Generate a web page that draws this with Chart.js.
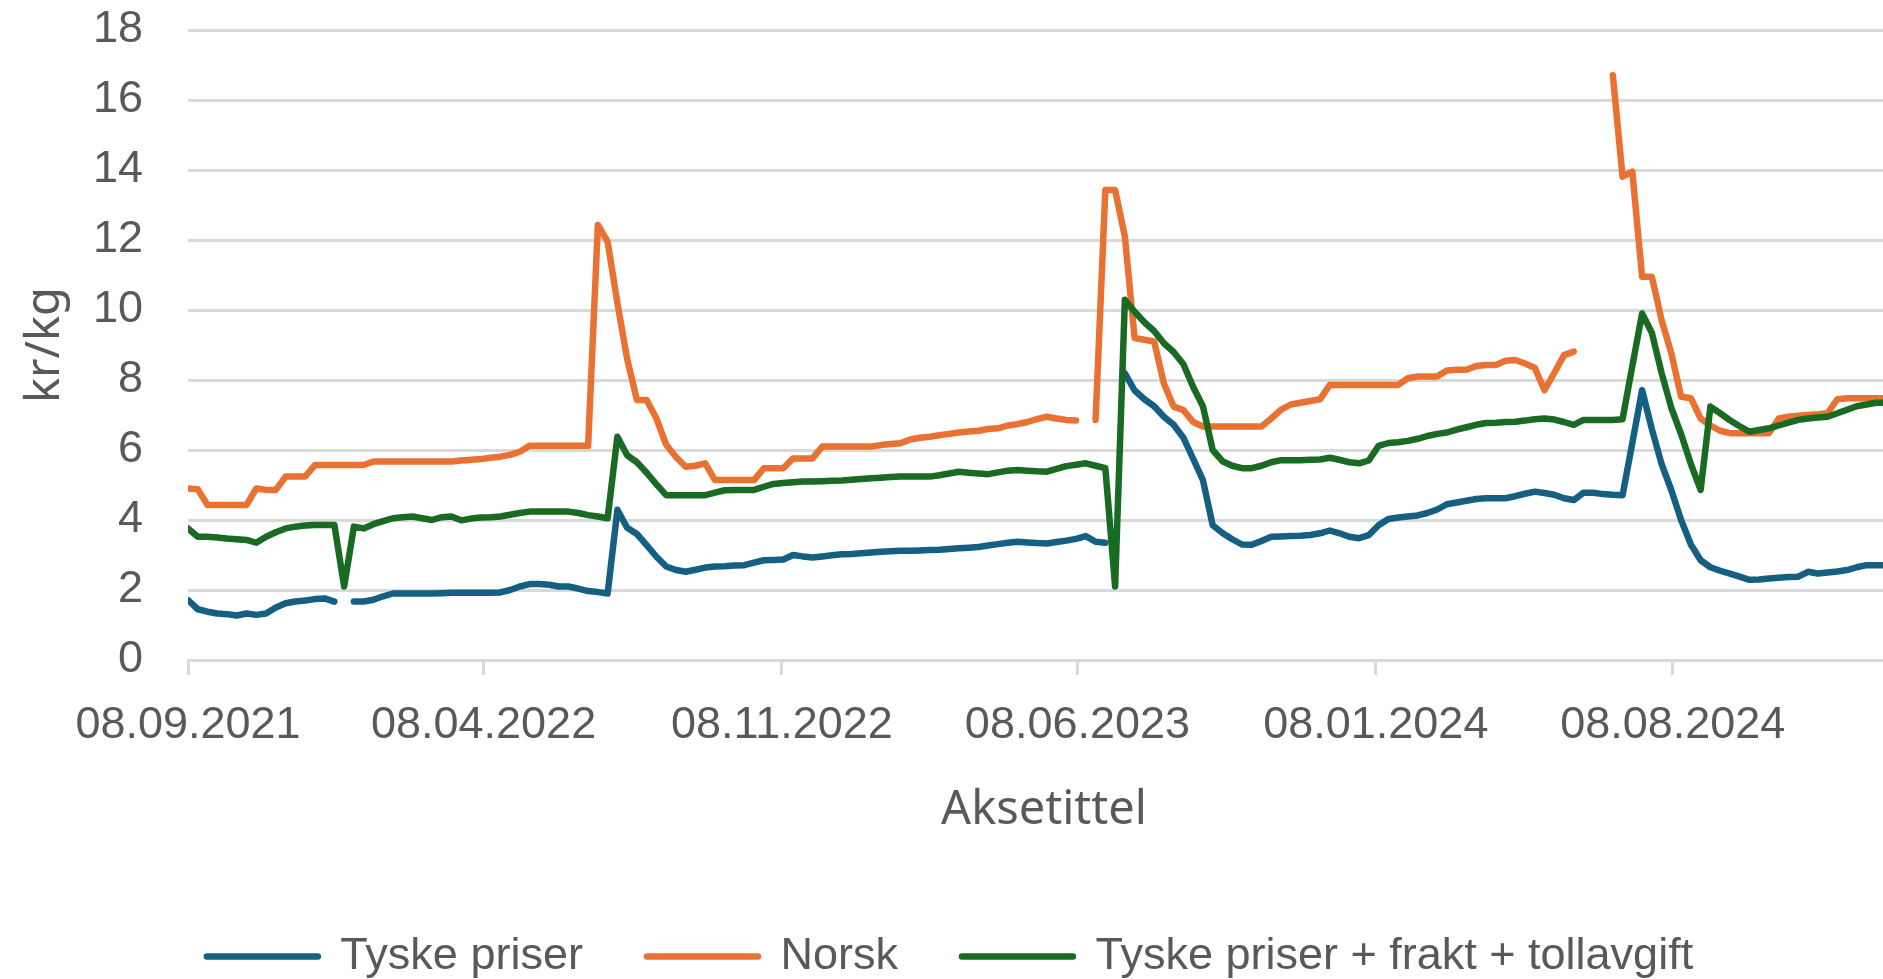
<!DOCTYPE html>
<html>
<head>
<meta charset="utf-8">
<script src="https://cdn.jsdelivr.net/npm/chart.js@4.4.1/dist/chart.umd.min.js"></script>
<style>
html, body { margin: 0; padding: 0; background: #ffffff; overflow: hidden; width: 1883px; height: 979px; }
#wrap { position: absolute; left: 0; top: 0; width: 1912px; height: 989px; }
</style>
</head>
<body>
<div id="wrap"><canvas id="chart" width="1912" height="989"></canvas></div>
<script>
// ---- Data (weekly observations starting 08.09.2021) ----
const startDate = '08.09.2021';
const axisEndDate = '18.01.2025';
const weeks = Array.from({ length: 176 }, (_, i) => i); // week number since start date

const tickLabels = ['08.09.2021', '08.04.2022', '08.11.2022', '08.06.2023', '08.01.2024', '08.08.2024'];
const yTickValues = [0, 2, 4, 6, 8, 10, 12, 14, 16, 18];

const seriesNames = ['Tyske priser', 'Norsk', 'Tyske priser + frakt + tollavgift'];

const tyskePriser = [
  1.71, 1.45, 1.38, 1.33, 1.31, 1.27, 1.33, 1.29, 1.33, 1.50,
  1.62, 1.67, 1.70, 1.74, 1.76, 1.67, null, 1.67, 1.67, 1.72,
  1.82, 1.90, 1.90, 1.90, 1.90, 1.90, 1.91, 1.92, 1.92, 1.92,
  1.92, 1.92, 1.93, 2.00, 2.10, 2.17, 2.17, 2.15, 2.10, 2.10,
  2.04, 1.97, 1.94, 1.90, 4.29, 3.78, 3.60, 3.28, 2.95, 2.67,
  2.57, 2.52, 2.58, 2.64, 2.67, 2.68, 2.70, 2.71, 2.78, 2.85,
  2.86, 2.87, 3.00, 2.96, 2.93, 2.96, 2.99, 3.02, 3.03, 3.05,
  3.07, 3.09, 3.11, 3.12, 3.12, 3.13, 3.14, 3.15, 3.17, 3.19,
  3.21, 3.23, 3.27, 3.31, 3.35, 3.38, 3.36, 3.34, 3.33, 3.37,
  3.41, 3.46, 3.54, 3.38, 3.35, null, 8.19, 7.70, 7.45, 7.25,
  6.95, 6.72, 6.35, 5.75, 5.14, 3.85, 3.63, 3.45, 3.30, 3.29,
  3.40, 3.52, 3.53, 3.54, 3.55, 3.57, 3.62, 3.70, 3.62, 3.52,
  3.48, 3.57, 3.85, 4.03, 4.07, 4.10, 4.13, 4.20, 4.30, 4.45,
  4.50, 4.55, 4.60, 4.62, 4.62, 4.62, 4.68, 4.75, 4.81, 4.77,
  4.72, 4.62, 4.57, 4.78, 4.78, 4.74, 4.72, 4.71, 6.20, 7.71,
  6.60, 5.60, 4.85, 4.00, 3.30, 2.85, 2.65, 2.55, 2.47, 2.38,
  2.29, 2.30, 2.33, 2.35, 2.37, 2.38, 2.52, 2.47, 2.50, 2.53,
  2.57, 2.65, 2.71, 2.71, 2.71, 2.71
];

const norsk = [
  4.90, 4.88, 4.43, 4.43, 4.43, 4.43, 4.43, 4.90, 4.86, 4.86,
  5.24, 5.24, 5.24, 5.57, 5.57, 5.57, 5.57, 5.57, 5.57, 5.67,
  5.67, 5.67, 5.67, 5.67, 5.67, 5.67, 5.67, 5.67, 5.70, 5.72,
  5.74, 5.78, 5.81, 5.86, 5.95, 6.12, 6.12, 6.12, 6.12, 6.12,
  6.12, 6.12, 12.43, 11.95, 10.20, 8.60, 7.43, 7.43, 6.90, 6.15,
  5.80, 5.52, 5.55, 5.62, 5.14, 5.14, 5.14, 5.14, 5.14, 5.48,
  5.48, 5.48, 5.76, 5.76, 5.76, 6.10, 6.10, 6.10, 6.10, 6.10,
  6.10, 6.14, 6.17, 6.19, 6.30, 6.35, 6.38, 6.42, 6.46, 6.50,
  6.53, 6.55, 6.60, 6.62, 6.70, 6.74, 6.80, 6.88, 6.95, 6.90,
  6.86, 6.84, null, 6.86, 13.43, 13.43, 12.10, 9.20, 9.15, 9.10,
  7.90, 7.24, 7.14, 6.80, 6.67, 6.67, 6.67, 6.67, 6.67, 6.67,
  6.67, 6.90, 7.15, 7.30, 7.35, 7.40, 7.45, 7.86, 7.86, 7.86,
  7.86, 7.86, 7.86, 7.86, 7.86, 8.05, 8.10, 8.10, 8.10, 8.27,
  8.29, 8.29, 8.40, 8.43, 8.43, 8.55, 8.57, 8.47, 8.35, 7.71,
  8.20, 8.71, 8.81, null, null, null, 16.71, 13.81, 13.95, 10.95,
  10.95, 9.71, 8.76, 7.52, 7.48, 6.90, 6.70, 6.55, 6.48, 6.48,
  6.48, 6.48, 6.48, 6.90, 6.95, 6.98, 7.00, 7.02, 7.05, 7.45,
  7.48, 7.48, 7.48, 7.48, 7.48, 7.48
];

const tyskeMedFraktOgToll = [
  3.76, 3.52, 3.52, 3.50, 3.47, 3.45, 3.43, 3.35, 3.52, 3.65,
  3.76, 3.81, 3.84, 3.86, 3.86, 3.86, 2.10, 3.81, 3.76, 3.88,
  3.97, 4.05, 4.08, 4.10, 4.05, 4.00, 4.08, 4.10, 3.99, 4.04,
  4.07, 4.08, 4.10, 4.15, 4.20, 4.24, 4.24, 4.24, 4.24, 4.24,
  4.20, 4.14, 4.10, 4.05, 6.38, 5.85, 5.65, 5.35, 5.02, 4.71,
  4.71, 4.71, 4.71, 4.71, 4.78, 4.85, 4.86, 4.86, 4.86, 4.95,
  5.03, 5.06, 5.08, 5.10, 5.10, 5.11, 5.12, 5.13, 5.15, 5.17,
  5.19, 5.21, 5.23, 5.24, 5.24, 5.24, 5.24, 5.28, 5.33, 5.38,
  5.35, 5.33, 5.31, 5.36, 5.41, 5.43, 5.41, 5.39, 5.38, 5.46,
  5.54, 5.58, 5.62, 5.55, 5.48, 2.10, 10.29, 9.95, 9.65, 9.40,
  9.05, 8.80, 8.45, 7.80, 7.25, 6.00, 5.68, 5.55, 5.48, 5.48,
  5.55, 5.65, 5.71, 5.71, 5.71, 5.72, 5.73, 5.78, 5.72, 5.65,
  5.62, 5.70, 6.12, 6.20, 6.22, 6.26, 6.32, 6.40, 6.46, 6.50,
  6.58, 6.65, 6.72, 6.77, 6.78, 6.80, 6.81, 6.84, 6.88, 6.90,
  6.87, 6.80, 6.72, 6.86, 6.86, 6.86, 6.86, 6.88, 8.40, 9.90,
  9.35, 8.20, 7.20, 6.45, 5.60, 4.86, 7.24, 7.05, 6.85, 6.68,
  6.52, 6.57, 6.62, 6.70, 6.78, 6.86, 6.90, 6.93, 6.95, 7.05,
  7.15, 7.25, 7.30, 7.35, 7.35, 7.35
];

// ---- helpers ----
function parseDMY(s) {
  const [d, m, y] = s.split('.').map(Number);
  return Date.UTC(y, m - 1, d);
}
const DAY = 86400000;
const startMs = parseDMY(startDate);
const dayOf = s => Math.round((parseDMY(s) - startMs) / DAY);
const tickDays = tickLabels.map(dayOf);
const axisEndDay = dayOf(axisEndDate);
const toPoints = vals => weeks.map((w, i) => ({ x: w * 7, y: vals[i] }));

const tickFont = { family: "'Liberation Sans', Arial, sans-serif", size: 45 };
const titleFont = { family: "'Noto Sans', 'Open Sans', sans-serif", size: 47 };
const grey = '#595959';
const gridGrey = '#d9d9d9';

const CANVAS_H = 989;
const LEGEND_FONT = 45;
const LEGEND_PAD = 64;
const PLOT_BOTTOM = 660;
const legendHeight = LEGEND_FONT + LEGEND_PAD + 10;
const xAxisHeight = CANVAS_H - legendHeight - PLOT_BOTTOM;
const LINE_W = 6.5;

const lineStyle = { borderWidth: LINE_W, borderCapStyle: 'round', borderJoinStyle: 'round', pointRadius: 0, pointHoverRadius: 0, tension: 0, fill: false, spanGaps: false };

new Chart(document.getElementById('chart'), {
  type: 'line',
  data: {
    datasets: [
      Object.assign({ label: seriesNames[0], data: toPoints(tyskePriser), borderColor: '#156082', backgroundColor: '#156082', order: 3 }, lineStyle),
      Object.assign({ label: seriesNames[1], data: toPoints(norsk), borderColor: '#E97132', backgroundColor: '#E97132', order: 2 }, lineStyle),
      Object.assign({ label: seriesNames[2], data: toPoints(tyskeMedFraktOgToll), borderColor: '#196B24', backgroundColor: '#196B24', order: 1 }, lineStyle)
    ]
  },
  options: {
    responsive: false,
    animation: false,
    events: [],
    layout: { padding: { left: 0, top: 30, right: 12, bottom: 0 } },
    plugins: {
      tooltip: { enabled: false },
      legend: {
        position: 'bottom',
        labels: {
          boxWidth: 111,
          boxHeight: 0,
          padding: LEGEND_PAD,
          color: grey,
          font: { family: "'Liberation Sans', Arial, sans-serif", size: LEGEND_FONT },
          sort: (a, b) => a.datasetIndex - b.datasetIndex
        }
      }
    },
    scales: {
      x: {
        type: 'linear',
        min: 0,
        max: axisEndDay,
        afterBuildTicks: s => { s.ticks = tickDays.map(v => ({ value: v })); },
        afterFit: s => { s.height = xAxisHeight; },
        ticks: {
          autoSkip: false,
          maxRotation: 0,
          minRotation: 0,
          padding: 24,
          color: grey,
          font: tickFont,
          callback: v => { const i = tickDays.indexOf(v); return i >= 0 ? tickLabels[i] : ''; }
        },
        grid: { drawOnChartArea: false, drawTicks: true, tickLength: 15, color: gridGrey, lineWidth: 3 },
        border: { display: true, color: gridGrey, width: 3 },
        title: { display: true, text: 'Aksetittel', color: grey, font: titleFont, padding: { top: 0, bottom: 31 } }
      },
      y: {
        min: 0,
        max: 18,
        afterBuildTicks: s => { s.ticks = yTickValues.map(v => ({ value: v })); },
        afterFit: s => { s.width = 188; },
        ticks: { padding: 0, color: grey, font: tickFont },
        grid: { color: gridGrey, lineWidth: 3, drawTicks: true, tickLength: 45, tickColor: 'rgba(0,0,0,0)' },
        border: { display: false },
        title: { display: true, text: 'kr/kg', color: grey, font: titleFont, padding: { top: 17, bottom: 0 } }
      }
    }
  }
});
</script>
</body>
</html>
